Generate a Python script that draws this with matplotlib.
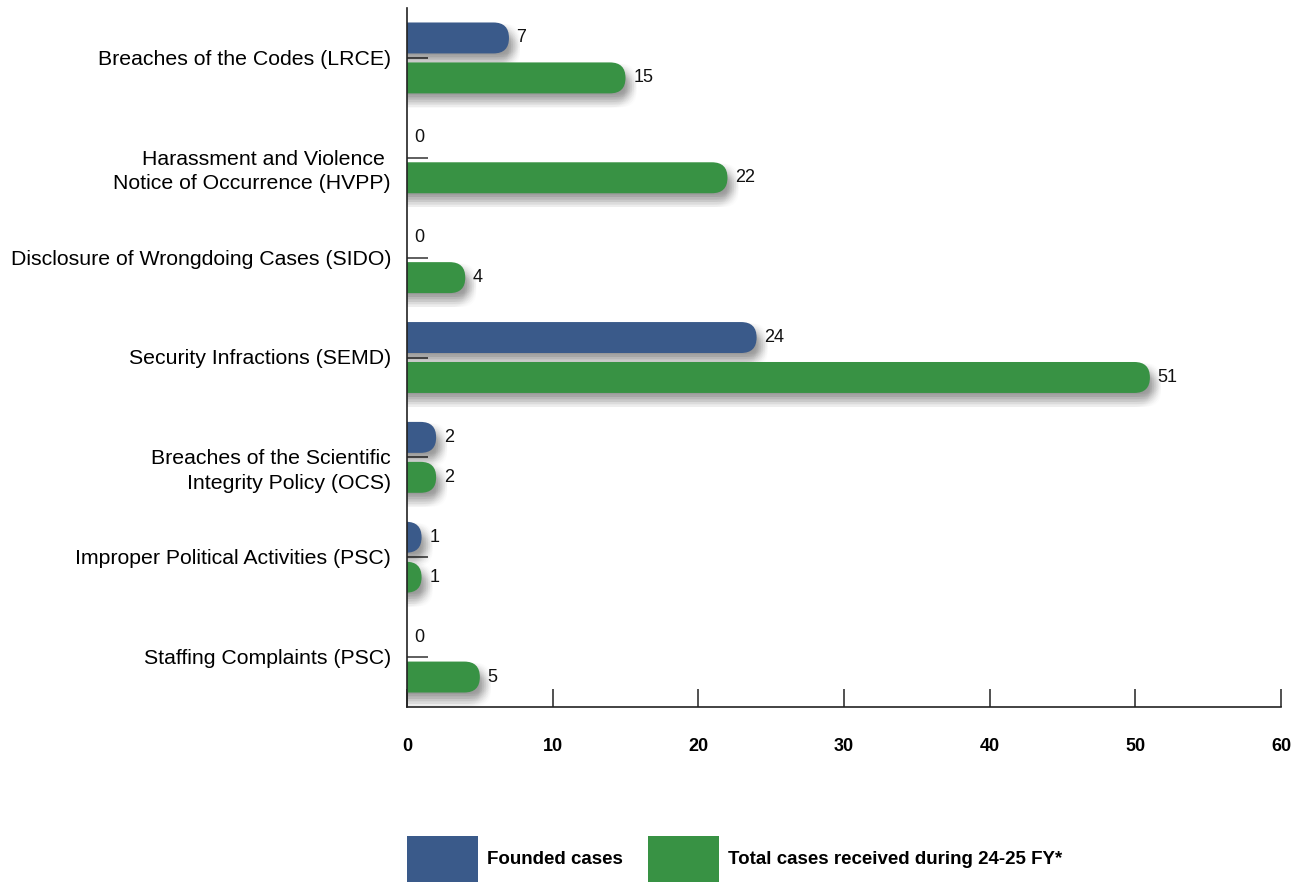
import matplotlib

matplotlib.use("Agg")
import matplotlib.pyplot as plt  # noqa: E402
import matplotlib.patheffects as pe  # noqa: E402
import matplotlib.transforms as mtransforms  # noqa: E402
import numpy as np  # noqa: E402
from matplotlib.patches import FancyBboxPatch, Patch  # noqa: E402

plt.rcParams["font.family"] = ["Liberation Sans", "DejaVu Sans"]

categories = [
    "Breaches of the Codes (LRCE)",
    "Harassment and Violence \nNotice of Occurrence (HVPP)",
    "Disclosure of Wrongdoing Cases (SIDO)",
    "Security Infractions (SEMD)",
    "Breaches of the Scientific\nIntegrity Policy (OCS)",
    "Improper Political Activities (PSC)",
    "Staffing Complaints (PSC)",
]
founded = [7, 0, 0, 24, 2, 1, 0]
received = [15, 22, 4, 51, 2, 1, 5]
series_labels = ["Founded cases", "Total cases received during 24-25 FY*"]
xticks = [0, 10, 20, 30, 40, 50, 60]

BLUE = "#3a5a8a"
GREEN = "#389244"
BAR_H = 0.31
OFFSET = 0.2

fig = plt.figure(figsize=(13.08, 8.82), dpi=100)
ax = fig.add_axes([407 / 1308, 1 - 707 / 882, 874 / 1308, 699 / 882])
ax.set_xlim(0, 60)
ax.set_ylim(len(categories) - 0.5, -0.5)

# pixels per data unit, used to keep the bar ends circular
bb = ax.get_window_extent()
aspect = (bb.width / 60) / (bb.height / len(categories))

# soft drop shadow built from many faint offset copies
shadow = [
    pe.SimplePatchShadow(offset=(dx, dy), shadow_rgbFace="k", alpha=0.013)
    for dx in (0.0, 1.6, 3.2, 4.8, 6.4, 8.0)
    for dy in (-1.0, -2.8, -4.6, -6.4, -8.2, -10.0)
] + [pe.Normal()]


def round_bars(bars, color):
    for rect in bars:
        x0, y0 = rect.get_x(), rect.get_y()
        w, h = rect.get_width(), rect.get_height()
        rect.remove()
        if w <= 0:
            continue
        r = h / 2 / aspect
        ax.add_patch(
            FancyBboxPatch(
                (x0 - 2 * r, y0),
                w + 2 * r,
                h,
                boxstyle=f"round,pad=0,rounding_size={r}",
                mutation_aspect=aspect,
                fc=color,
                ec="none",
                zorder=2,
                path_effects=shadow,
            )
        )


y = np.arange(len(categories))
b1 = ax.barh(y - OFFSET, founded, BAR_H, color=BLUE)
b2 = ax.barh(y + OFFSET, received, BAR_H, color=GREEN)
round_bars(b1, BLUE)
round_bars(b2, GREEN)

for vals, dy in ((founded, -OFFSET), (received, OFFSET)):
    for yy, v in zip(y, vals):
        ax.annotate(
            str(v),
            (v, yy + dy),
            xytext=(5.5, 0),
            textcoords="offset points",
            va="center",
            ha="left",
            fontsize=13,
            color="#111111",
        )

ax.set_xticks(xticks)
ax.tick_params(axis="x", direction="in", length=13, width=1.1, pad=22,
               labelsize=13, color="#222222")
for lbl in ax.get_xticklabels():
    lbl.set_fontweight("bold")

ax.set_yticks(y, categories)
ax.tick_params(axis="y", direction="in", length=15, width=1.1, pad=11.5,
               labelsize=15.3, color="#333333")
# first line of each label sits level with its tick
lift = mtransforms.ScaledTranslation(0, 5.8 / 72, fig.dpi_scale_trans)
for lbl in ax.get_yticklabels():
    lbl.set_verticalalignment("top")
    lbl.set_linespacing(1.38)
    lbl.set_transform(lbl.get_transform() + lift)

for side in ("top", "right"):
    ax.spines[side].set_visible(False)
for side in ("left", "bottom"):
    ax.spines[side].set_linewidth(1.2)
    ax.spines[side].set_color("#222222")

fig.legend(
    handles=[Patch(fc=BLUE), Patch(fc=GREEN)],
    labels=series_labels,
    loc="lower left",
    bbox_to_anchor=(407 / 1308, 0),
    ncol=2,
    frameon=False,
    prop={"weight": "bold", "size": 13.5},
    handlelength=3.8,
    handleheight=3.4,
    handletextpad=0.48,
    columnspacing=1.3,
    borderpad=0,
    borderaxespad=0,
)

fig.savefig("out.png", dpi=100)
